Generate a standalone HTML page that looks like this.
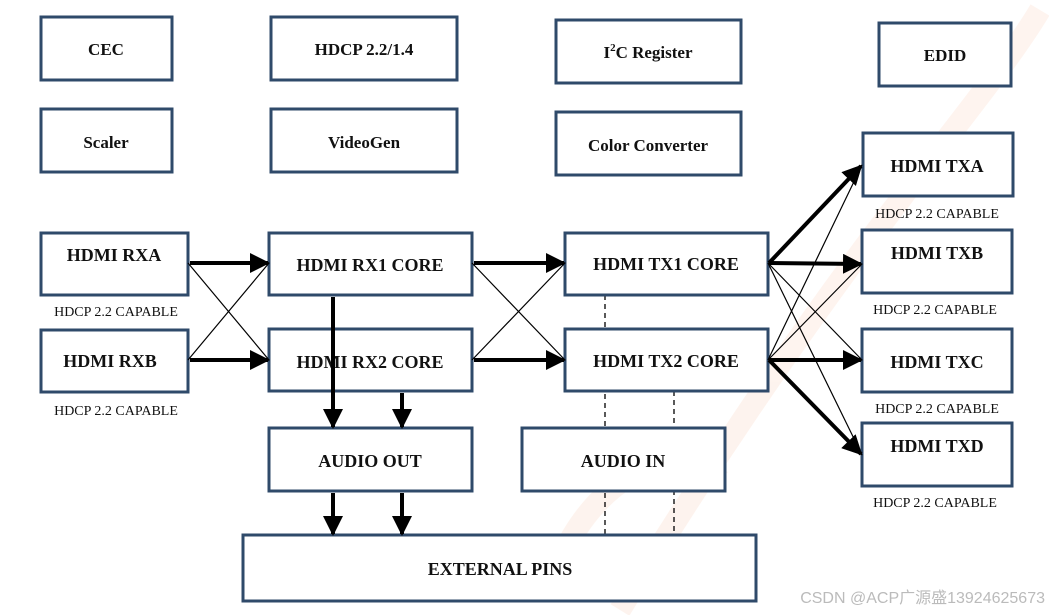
<!DOCTYPE html>
<html><head><meta charset="utf-8"><style>
html,body{margin:0;padding:0;background:#fff;}
svg{display:block;}
text{font-family:"Liberation Serif",serif;font-weight:bold;fill:#111;}
.s{font-weight:normal;font-size:14px;}
</style></head><body>
<svg width="1049" height="615" viewBox="0 0 1049 615">
<defs>
<marker id="a" viewBox="0 0 10 10" refX="9" refY="5" markerWidth="5" markerHeight="5" orient="auto" markerUnits="strokeWidth"><path d="M0,0 L10,5 L0,10 z" fill="#000"/></marker>
</defs>
<g stroke="#f6a57a" stroke-width="22" fill="none" opacity="0.12">
<path d="M620,610 C700,480 800,330 900,200 C960,120 1010,60 1040,10"/>
<path d="M560,560 C600,470 680,440 720,480"/>
</g>
<g stroke="#000" stroke-width="1.3" stroke-dasharray="5,4">
<line x1="605" y1="295" x2="605" y2="535"/>
<line x1="674" y1="391" x2="674" y2="535"/>
</g>
<g fill="#fff" stroke="#2f4a6a" stroke-width="3">
<rect x="41" y="17" width="131" height="63"/>
<rect x="271" y="17" width="186" height="63"/>
<rect x="556" y="20" width="185" height="63"/>
<rect x="879" y="23" width="132" height="63"/>
<rect x="41" y="109" width="131" height="63"/>
<rect x="271" y="109" width="186" height="63"/>
<rect x="556" y="112" width="185" height="63"/>
<rect x="41" y="233" width="147" height="62"/>
<rect x="41" y="330" width="147" height="62"/>
<rect x="269" y="233" width="203" height="62"/>
<rect x="269" y="329" width="203" height="62"/>
<rect x="565" y="233" width="203" height="62"/>
<rect x="565" y="329" width="203" height="62"/>
<rect x="863" y="133" width="150" height="63"/>
<rect x="862" y="230" width="150" height="63"/>
<rect x="862" y="329" width="150" height="63"/>
<rect x="862" y="423" width="150" height="63"/>
<rect x="269" y="428" width="203" height="63"/>
<rect x="522" y="428" width="203" height="63"/>
<rect x="243" y="535" width="513" height="66"/>
</g>
<g font-size="17" text-anchor="middle">
<text x="106" y="55">CEC</text>
<text x="364" y="55">HDCP 2.2/1.4</text>
<text x="648" y="58">I<tspan font-size="11" dy="-7">2</tspan><tspan dy="7">C Register</tspan></text>
<text x="945" y="61">EDID</text>
<text x="106" y="148">Scaler</text>
<text x="364" y="148">VideoGen</text>
<text x="648" y="151">Color Converter</text>
</g>
<g font-size="18" text-anchor="middle">
<text x="114" y="261">HDMI RXA</text>
<text x="110" y="367">HDMI RXB</text>
<text x="370" y="271">HDMI RX1 CORE</text>
<text x="370" y="368">HDMI RX2 CORE</text>
<text x="666" y="270">HDMI TX1 CORE</text>
<text x="666" y="367">HDMI TX2 CORE</text>
<text x="937" y="172">HDMI TXA</text>
<text x="937" y="259">HDMI TXB</text>
<text x="937" y="368">HDMI TXC</text>
<text x="937" y="452">HDMI TXD</text>
<text x="370" y="467">AUDIO OUT</text>
<text x="623" y="467">AUDIO IN</text>
<text x="500" y="575">EXTERNAL PINS</text>
</g>
<g stroke="#000" stroke-width="1.2">
<line x1="188" y1="263" x2="269" y2="360"/>
<line x1="188" y1="360" x2="269" y2="263"/>
<line x1="472" y1="263" x2="565" y2="360"/>
<line x1="472" y1="360" x2="565" y2="263"/>
<line x1="768" y1="263" x2="862" y2="360"/>
<line x1="768" y1="263" x2="862" y2="455"/>
<line x1="768" y1="360" x2="862" y2="165"/>
<line x1="768" y1="360" x2="862" y2="264"/>
</g>
<g stroke="#000" stroke-width="4" marker-end="url(#a)">
<line x1="190" y1="263" x2="268" y2="263"/>
<line x1="190" y1="360" x2="268" y2="360"/>
<line x1="474" y1="263" x2="564" y2="263"/>
<line x1="474" y1="360" x2="564" y2="360"/>
<line x1="769" y1="263" x2="861" y2="166"/>
<line x1="769" y1="263" x2="861" y2="264"/>
<line x1="769" y1="360" x2="861" y2="360"/>
<line x1="769" y1="360" x2="861" y2="454"/>
<line x1="333" y1="297" x2="333" y2="427"/>
<line x1="402" y1="393" x2="402" y2="427"/>
<line x1="333" y1="493" x2="333" y2="534"/>
<line x1="402" y1="493" x2="402" y2="534"/>
</g>
<g text-anchor="middle">
<text class="s" x="116" y="316">HDCP 2.2 CAPABLE</text>
<text class="s" x="116" y="415">HDCP 2.2 CAPABLE</text>
<text class="s" x="937" y="218">HDCP 2.2 CAPABLE</text>
<text class="s" x="935" y="314">HDCP 2.2 CAPABLE</text>
<text class="s" x="937" y="413">HDCP 2.2 CAPABLE</text>
<text class="s" x="935" y="507">HDCP 2.2 CAPABLE</text>
</g>
<text x="1045" y="603" text-anchor="end" style="font-family:'Liberation Sans','Noto Sans CJK SC',sans-serif;font-weight:normal;font-size:16px;fill:#bbb">CSDN @ACP广源盛13924625673</text>
</svg>
</body></html>
